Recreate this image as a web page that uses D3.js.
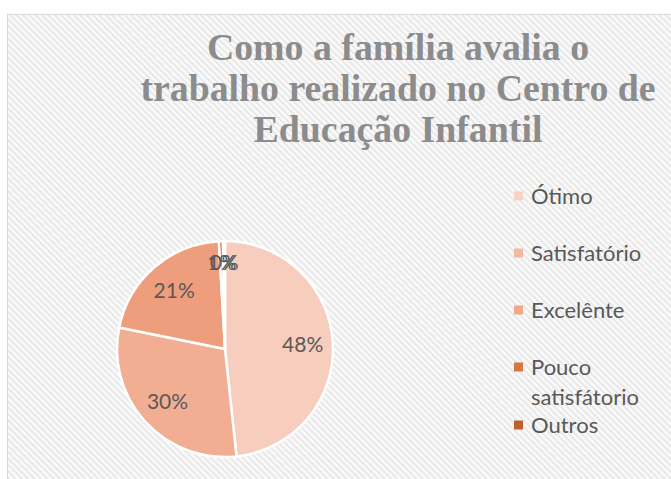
<!DOCTYPE html>
<html>
<head>
<meta charset="utf-8">
<script src="https://cdn.jsdelivr.net/npm/d3@7"></script>
<style>
  body { margin: 0; background: #fff; }
  svg { display: block; }
  .title { font-family: "Liberation Serif", "Times New Roman", serif; font-weight: bold; }
  .lbl { font-family: Lato, "Open Sans", sans-serif; }
</style>
</head>
<body>
<div id="root"></div>
<script>
const categories = ["Ótimo", "Satisfatório", "Excelênte", "Pouco satisfátorio", "Outros"];
const values = [48.3, 29.9, 20.9, 0.6, 0.3];
const titleLines = ["Como a família avalia o", "trabalho realizado no Centro de", "Educação Infantil"];

// gradient colours per slice: top, bottom
const sliceColors = [
  ["#f7cdbd", "#fbe4dc"],
  ["#f1ae93", "#f8d2c3"],
  ["#ee9e7c", "#f6c1ab"],
  ["#d9733c", "#e99a6c"],
  ["#b65623", "#c86a34"]
];
const legendColors = ["#f8d3c5", "#f4b9a3", "#f1a98b", "#d7773f", "#bf5f2b"];

const width = 671, height = 479;
const svg = d3.select("#root").append("svg")
  .attr("width", width)
  .attr("height", height);

const defs = svg.append("defs");
const pat = defs.append("pattern")
  .attr("id", "hatch")
  .attr("patternUnits", "userSpaceOnUse")
  .attr("width", 4.5)
  .attr("height", 4.5)
  .attr("patternTransform", "rotate(-45)");
pat.append("rect").attr("width", 4.5).attr("height", 4.5).attr("fill", "#fafafa");
pat.append("rect").attr("width", 2).attr("height", 4.5).attr("fill", "#e8e8e8");

sliceColors.forEach((c, i) => {
  const g = defs.append("linearGradient")
    .attr("id", "grad" + i)
    .attr("gradientUnits", "userSpaceOnUse")
    .attr("x1", 0).attr("y1", 240).attr("x2", 0).attr("y2", 458);
  g.append("stop").attr("offset", "0%").attr("stop-color", c[0]);
  g.append("stop").attr("offset", "100%").attr("stop-color", c[1]);
});

// chart area
svg.append("rect")
  .attr("x", 7.5).attr("y", 14.5)
  .attr("width", 680).attr("height", 480)
  .attr("fill", "url(#hatch)")
  .attr("stroke", "#d9d9d9")
  .attr("stroke-width", 1);

// title
const title = svg.append("text")
  .attr("class", "title")
  .attr("text-anchor", "middle")
  .attr("font-size", 37.8)
  .attr("fill", "#8c8c8c");
titleLines.forEach((t, i) => {
  title.append("tspan").attr("x", 398).attr("y", 60 + i * 41).text(t);
});

// pie
const cx = 225, cy = 349, r = 108;
const pie = d3.pie().sort(null).value(d => d);
const arcs = pie(values);
const arc = d3.arc().innerRadius(0).outerRadius(r);
const labelArc = d3.arc().innerRadius(r * 0.72).outerRadius(r * 0.72);
const smallArc = d3.arc().innerRadius(r * 0.8).outerRadius(r * 0.8);

const pg = svg.append("g").attr("transform", `translate(${cx},${cy})`);
pg.selectAll("path")
  .data(arcs)
  .join("path")
  .attr("d", arc)
  .attr("fill", (d, i) => "url(#grad" + i + ")")
  .attr("stroke", "#ffffff")
  .attr("stroke-width", 2.5)
  .attr("stroke-linejoin", "round");

// percentage labels (tiny slices sit a bit further out, like the original)
pg.selectAll("text")
  .data(arcs)
  .join("text")
  .attr("class", "lbl")
  .attr("transform", (d) => `translate(${(d.data < 2 ? smallArc : labelArc).centroid(d)})`)
  .attr("text-anchor", "middle")
  .attr("dy", "0.35em")
  .attr("font-size", 21)
  .attr("fill", "#595959")
  .text(d => Math.round(d.data) + "%");

// legend
const legend = svg.append("g")
  .attr("class", "lbl")
  .attr("font-size", 22)
  .attr("fill", "#595959");
const legendY = [196, 253, 310, 367, 425];
categories.forEach((c, i) => {
  const item = legend.append("g");
  item.append("rect")
    .attr("x", 514).attr("y", legendY[i] - 4.5)
    .attr("width", 9).attr("height", 9)
    .attr("fill", legendColors[i]);
  const txt = item.append("text").attr("x", 531).attr("y", legendY[i] + 7.5);
  if (c === "Pouco satisfátorio") {
    txt.append("tspan").attr("x", 531).text("Pouco");
    txt.append("tspan").attr("x", 531).attr("dy", 30).text("satisfátorio");
  } else {
    txt.text(c);
  }
});
</script>
</body>
</html>
